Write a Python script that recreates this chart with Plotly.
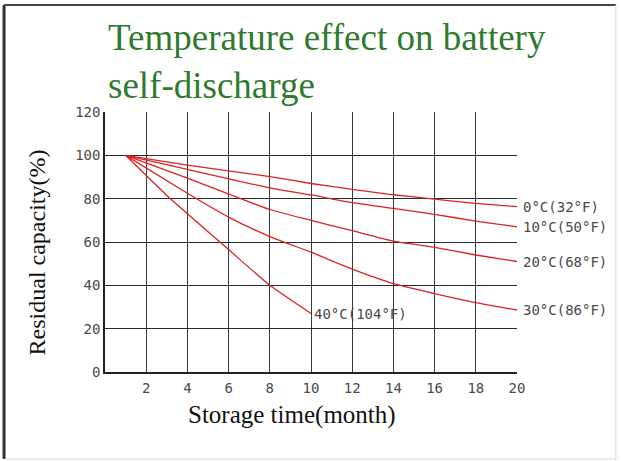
import plotly.graph_objects as go

# ---- data ----
months_0c = [1, 4, 8, 10, 12, 14, 16, 18, 20]
cap_0c = [100, 95.5, 90.2, 87, 84.3, 81.8, 79.8, 77.8, 76.3]

months_10c = [1, 4, 8, 10, 12, 14, 16, 18, 20]
cap_10c = [100, 93.5, 85, 81.7, 78.2, 75.5, 72.8, 69.6, 67]

months_20c = [1, 4, 8, 10, 12, 14, 16, 18, 20]
cap_20c = [100, 89.5, 75, 70, 65.2, 60.4, 57.5, 54, 51]

months_30c = [1, 4, 6, 8, 10, 12, 14, 16, 18, 20]
cap_30c = [100, 82.5, 71.5, 62.5, 55.3, 47.5, 40.8, 36.2, 32, 28.6]

months_40c = [1, 3, 6, 8, 10]
cap_40c = [100, 81.5, 56.5, 40, 27]

series_names = ["0°C(32°F)", "10°C(50°F)", "20°C(68°F)", "30°C(86°F)", "40°C(104°F)"]

x_ticks = [2, 4, 6, 8, 10, 12, 14, 16, 18, 20]
y_ticks = [0, 20, 40, 60, 80, 100, 120]

title_text = "Temperature effect on battery<br>self-discharge"
x_title = "Storage time(month)"
y_title = "Residual capacity(%)"

# ---- figure ----
RED = "#dc2222"
series = [
    (months_0c, cap_0c),
    (months_10c, cap_10c),
    (months_20c, cap_20c),
    (months_30c, cap_30c),
    (months_40c, cap_40c),
]

fig = go.Figure()
for (xs, ys), name in zip(series, series_names):
    fig.add_trace(go.Scatter(
        x=xs, y=ys, mode="lines", name=name,
        line=dict(color=RED, width=1.3, shape="spline", smoothing=0.5),
        showlegend=False, hoverinfo="skip",
    ))

mono = dict(family="DejaVu Sans Mono", size=14, color="#4a4a4a")

annotations = []
# series labels at line ends
for (xs, ys), name in zip(series, series_names):
    annotations.append(dict(
        x=xs[-1], y=ys[-1], xref="x", yref="y", text=name,
        showarrow=False, xanchor="left", yanchor="middle",
        xshift=4 if xs[-1] == 20 else 1, yshift=0, font=mono,
    ))

# title
annotations.append(dict(
    x=0.003, y=1.375, xref="paper", yref="paper", text=title_text,
    showarrow=False, xanchor="left", yanchor="top", align="left",
    font=dict(family="Liberation Serif", size=37, color="#2f7a2f"),
))
# axis titles
annotations.append(dict(
    x=-0.165, y=0.46, xref="paper", yref="paper", text=y_title,
    showarrow=False, textangle=-90, xanchor="center", yanchor="middle",
    font=dict(family="Liberation Serif", size=24, color="#111111"),
))
annotations.append(dict(
    x=0.455, y=-0.165, xref="paper", yref="paper", text=x_title,
    showarrow=False, xanchor="center", yanchor="middle",
    font=dict(family="Liberation Serif", size=25, color="#111111"),
))

shapes = [
    # outer frame
    dict(type="line", xref="paper", yref="paper", x0=-0.245, x1=-0.245, y0=1.412, y1=-0.335,
         line=dict(color="#333333", width=3)),
    dict(type="line", xref="paper", yref="paper", x0=-0.245, x1=1.24, y0=1.412, y1=1.412,
         line=dict(color="#444444", width=2)),
    dict(type="line", xref="paper", yref="paper", x0=1.24, x1=1.24, y0=1.412, y1=-0.335,
         line=dict(color="#d8d8d8", width=1)),
    dict(type="line", xref="paper", yref="paper", x0=-0.245, x1=1.24, y0=-0.335, y1=-0.335,
         line=dict(color="#d8d8d8", width=1)),
]

fig.update_layout(
    width=621, height=461,
    margin=dict(l=105, r=104, t=112, b=89),
    paper_bgcolor="white", plot_bgcolor="white",
    annotations=annotations, shapes=shapes,
    xaxis=dict(
        range=[0, 20], tickvals=x_ticks, ticktext=[str(v) for v in x_ticks],
        showgrid=True, gridcolor="#3a3a3a", gridwidth=1.4,
        showline=True, linecolor="#222222", linewidth=1.5,
        zeroline=False, ticks="", tickfont=mono, ticklabelstandoff=2,
    ),
    yaxis=dict(
        range=[0, 120], tickvals=y_ticks, ticktext=[str(v) for v in y_ticks],
        showgrid=True, gridcolor="#2a2a2a", gridwidth=1.4,
        showline=True, linecolor="#222222", linewidth=1.5,
        zeroline=False, ticks="", tickfont=mono,
    ),
)

fig.write_html("out.html", config={"displayModeBar": False},
               post_script="document.body.style.margin='0px';")
